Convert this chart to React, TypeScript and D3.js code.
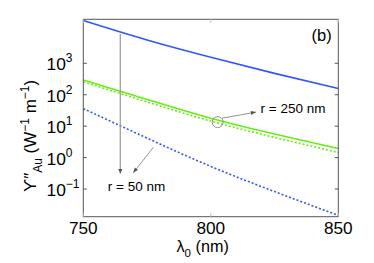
import React from "react";
import * as d3 from "d3";

// wavelength (nm)
const lambda = [750, 775, 800, 825, 850];
// Υ''_Au values (W^-1 m^-1)
const blueSolid = [22900, 5500, 1550, 479, 158];
const greenSolid = [295, 71, 17.8, 5.6, 1.95];
const greenDotted = [257, 59, 14.5, 4.4, 1.45];
const blueDotted = [36.3, 4.17, 0.525, 0.083, 0.0145];
const xTicks = [750, 800, 850];
const yTickExps = [-1, 0, 1, 2, 3];

const W = 374;
const H = 263;
const FONT = "'Liberation Sans', Arial, Helvetica, sans-serif";

export default function App() {
  const x = d3.scaleLinear().domain([750, 850]).range([83.3, 338.3]);
  const y = d3.scaleLog().domain([Math.pow(10, -1.88), Math.pow(10, 4.4)]).range([216.7, 19.3]);
  const line = d3
    .line<[number, number]>()
    .x((d) => x(d[0]))
    .y((d) => y(d[1]))
    .curve(d3.curveNatural);
  const mk = (vals: number[]) => line(lambda.map((l, i) => [l, vals[i]] as [number, number])) || "";

  const [x0, x1] = x.range();
  const [yb, yt] = y.range();

  // annotation anchors in data units
  const vArrow = { l: 764.5, from: 8500, to: 0.3 };
  const dArrow = { l0: 777.5, v0: 2.14, l1: 769.6, v1: 0.33 };
  const circ = { l: 802.7, v: 13.5 };
  const cArrow = { l0: 804.4, v0: 17.9, l1: 817.7, v1: 28 };

  const ann = "#777";
  const arrowHead = (xa: number, ya: number, xb: number, yb2: number) => {
    const ang = Math.atan2(yb2 - ya, xb - xa);
    const len = 5, wid = 2;
    const p1 = [xb - len * Math.cos(ang) + wid * Math.sin(ang), yb2 - len * Math.sin(ang) - wid * Math.cos(ang)];
    const p2 = [xb - len * Math.cos(ang) - wid * Math.sin(ang), yb2 - len * Math.sin(ang) + wid * Math.cos(ang)];
    return `M${xb},${yb2}L${p1[0]},${p1[1]}L${p2[0]},${p2[1]}Z`;
  };

  const va = [x(vArrow.l), y(vArrow.from), x(vArrow.l), y(vArrow.to)];
  const da = [x(dArrow.l0), y(dArrow.v0), x(dArrow.l1), y(dArrow.v1)];
  const ca = [x(cArrow.l0), y(cArrow.v0), x(cArrow.l1), y(cArrow.v1)];

  return (
    <svg width={W} height={H} style={{ position: "absolute", left: 0, top: 0, background: "#fff" }} fontFamily={FONT}>
      <rect x={0} y={0} width={W} height={H} fill="#fff" />
      {/* curves */}
      <path d={mk(blueSolid)} fill="none" stroke="#3355ff" strokeWidth={1.6} />
      <path d={mk(greenSolid)} fill="none" stroke="#66ee11" strokeWidth={1.6} />
      <path d={mk(greenDotted)} fill="none" stroke="#66ee11" strokeWidth={1.6} strokeDasharray="2,2" />
      <path d={mk(blueDotted)} fill="none" stroke="#3355ff" strokeWidth={1.6} strokeDasharray="2,2" />

      {/* frame */}
      <rect x={x0} y={yt} width={x1 - x0} height={yb - yt} fill="none" stroke="#555" strokeWidth={1} />
      {yTickExps.map((e) => (
        <g key={e}>
          <line x1={x0} x2={x0 + 3.5} y1={y(Math.pow(10, e))} y2={y(Math.pow(10, e))} stroke="#555" />
          <line x1={x1} x2={x1 - 3.5} y1={y(Math.pow(10, e))} y2={y(Math.pow(10, e))} stroke="#555" />
          <text x={46.5} y={y(Math.pow(10, e)) + 7} fontSize={17.4} fill="#000">
            10
            <tspan dy={-8} fontSize={12}>{e < 0 ? "\u2212" + Math.abs(e) : String(e)}</tspan>
          </text>
        </g>
      ))}
      {xTicks.map((t) => (
        <g key={t}>
          <line x1={x(t)} x2={x(t)} y1={yb} y2={yb - 3.5} stroke="#bbb" />
          <line x1={x(t)} x2={x(t)} y1={yt} y2={yt + 3.5} stroke="#bbb" />
          <text x={x(t)} y={233.8} fontSize={17.2} textAnchor="middle" fill="#000">{t}</text>
        </g>
      ))}

      {/* x label */}
      <text x={176.5} y={252} fontSize={16.2} fill="#000">
        λ<tspan dy={5} fontSize={11.5}>0</tspan>
        <tspan dy={-5} fontSize={16.2}> (nm)</tspan>
      </text>

      {/* y label */}
      <text transform="translate(36,192) rotate(-90)" fontSize={17} fill="#000">
        ϒ″<tspan dy={6} fontSize={12}>Au</tspan>
        <tspan dy={-6} fontSize={17}> (W</tspan>
        <tspan dy={-7} fontSize={12}>−1</tspan>
        <tspan dy={7} fontSize={17}> m</tspan>
        <tspan dy={-7} fontSize={12}>−1</tspan>
        <tspan dy={7} fontSize={17}>)</tspan>
      </text>

      {/* annotations */}
      <line x1={va[0]} y1={va[1]} x2={va[2]} y2={va[3] - 3} stroke="#999" strokeWidth={1.2} />
      <path d={arrowHead(va[0], va[1], va[2], va[3])} fill="#555" />
      <line x1={da[0]} y1={da[1]} x2={da[2]} y2={da[3]} stroke={ann} strokeWidth={0.8} />
      <path d={arrowHead(da[0], da[1], da[2], da[3])} fill="#555" />
      <circle cx={x(circ.l)} cy={y(circ.v)} r={5.5} fill="none" stroke="#888" strokeWidth={0.9} />
      <line x1={ca[0]} y1={ca[1]} x2={ca[2]} y2={ca[3]} stroke={ann} strokeWidth={0.8} />
      <path d={arrowHead(ca[0], ca[1], ca[2], ca[3])} fill="#555" />

      <text x={x(759.6)} y={190.7} fontSize={13.5} fill="#000">r = 50 nm</text>
      <text x={x(819.5)} y={113} fontSize={13.5} fill="#000">r = 250 nm</text>
      <text x={x(847.4)} y={41} fontSize={16.5} textAnchor="end" fill="#000">(b)</text>
    </svg>
  );
}
